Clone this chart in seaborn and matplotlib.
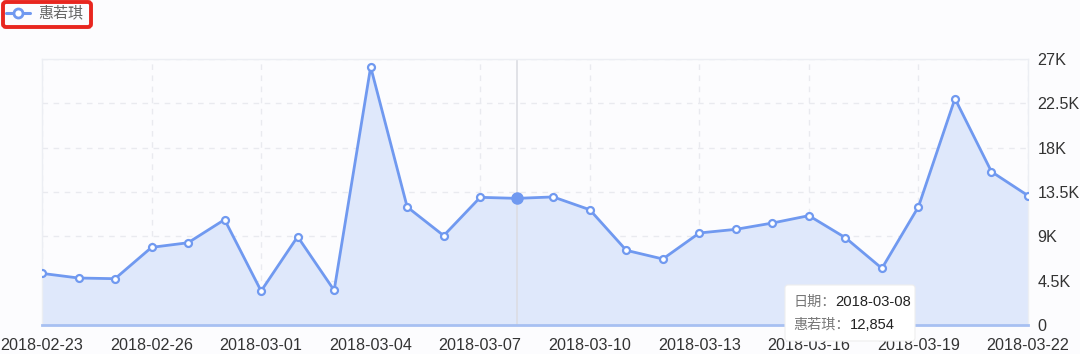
import matplotlib
matplotlib.use("Agg")
import matplotlib.pyplot as plt
import matplotlib.dates as mdates
from matplotlib.patches import FancyBboxPatch
from matplotlib.lines import Line2D
import numpy as np
import pandas as pd
import seaborn as sns

# ---- data ----
dates = pd.date_range("2018-02-23", "2018-03-22", freq="D")
values = [5240, 4770, 4700, 7880, 8350, 10700, 3450, 8970, 3520, 26200,
          11980, 9070, 12960, 12854, 13000, 11700, 7580, 6700, 9340, 9710,
          10350, 11100, 8860, 5750, 12000, 22980, 15560, 13130]
series_name = "惠若琪"
y_ticks = [0, 4500, 9000, 13500, 18000, 22500, 27000]
y_tick_labels = ["0", "4.5K", "9K", "13.5K", "18K", "22.5K", "27K"]
tick_dates = pd.date_range("2018-02-23", "2018-03-22", freq="3D")
tooltip_date = "2018-03-08"
tooltip_value = "12,854"

df = pd.DataFrame({"date": dates, "value": values})

LINE = "#7099f0"
FILL = "#dfe8fb"
BG = "#fcfcfe"
GRID = "#e9eaef"
TXT = "#333333"

sns.set_theme(style="white")
plt.rcParams["font.family"] = ["Liberation Sans", "Noto Sans CJK SC", "DejaVu Sans"]

fig = plt.figure(figsize=(10.8, 3.54), dpi=100, facecolor=BG)
ax = fig.add_axes([42 / 1080, 1 - 325 / 354, (1028 - 42) / 1080, (325 - 59) / 354])
ax.set_facecolor(BG)

ax.fill_between(df["date"], df["value"], 0, color=FILL, zorder=1, linewidth=0)

# crosshair
hi = df[df["date"] == pd.Timestamp(tooltip_date)]
ax.axvline(hi["date"].iloc[0], color="#dcdde3", lw=1.2, zorder=2)

sns.lineplot(data=df, x="date", y="value", ax=ax, color=LINE, lw=2,
             marker="o", markersize=5, markerfacecolor="white",
             markeredgecolor=LINE, markeredgewidth=1.6, zorder=4)
ax.plot(hi["date"], hi["value"], "o", color=LINE, markersize=8, zorder=5)

ax.set_xlim(dates[0], dates[-1])
ax.set_ylim(0, 27000)
ax.set_yticks(y_ticks)
ax.set_yticklabels(y_tick_labels)
ax.yaxis.tick_right()
ax.set_xticks(tick_dates)
ax.xaxis.set_major_formatter(mdates.DateFormatter("%Y-%m-%d"))
ax.set_xlabel("")
ax.set_ylabel("")
ax.tick_params(axis="both", length=0, labelsize=11.6, colors=TXT)
ax.tick_params(axis="x", pad=9)
ax.tick_params(axis="y", pad=7)

ax.grid(True, color=GRID, ls=(0, (4, 4)), lw=1, zorder=0)
for side in ["top", "left", "right"]:
    ax.spines[side].set_color("#eceef3")
    ax.spines[side].set_linewidth(1)
ax.spines["bottom"].set_color("#a7c0f2")
ax.spines["bottom"].set_linewidth(2)
ax.spines["bottom"].set_zorder(6)

# legend
leg_ax = fig.add_axes([0, 0, 1, 1], facecolor="none")
leg_ax.set_xlim(0, 1080)
leg_ax.set_ylim(354, 0)
leg_ax.axis("off")
leg_ax.add_line(Line2D([6, 13], [13, 13], color=LINE, lw=2.2))
leg_ax.add_line(Line2D([23, 30], [13, 13], color=LINE, lw=2.2))
leg_ax.plot([18], [13], "o", markersize=6.5, markerfacecolor="white",
            markeredgecolor=LINE, markeredgewidth=2)
leg_ax.text(38, 13, series_name, fontsize=10.8, color="#666666", va="center", ha="left",
            family=["Noto Sans CJK SC"])
leg_ax.add_patch(FancyBboxPatch((3, 2), 88, 25, boxstyle="round,pad=0,rounding_size=3",
                                fill=False, ec="#e8261f", lw=2.8))

# tooltip
leg_ax.add_patch(FancyBboxPatch((785, 285), 130, 56, boxstyle="round,pad=0,rounding_size=3",
                                fc="white", ec="#eeeeee", lw=0.8, zorder=7))
leg_ax.text(793, 302, "日期：", fontsize=10.2, color="#777777", va="center", ha="left",
            family=["Noto Sans CJK SC"], zorder=8)
leg_ax.text(835, 302, tooltip_date, fontsize=10.6, color="#222222", va="center", ha="left", zorder=8)
leg_ax.text(793, 325, series_name + "：", fontsize=10.2, color="#777777", va="center", ha="left",
            family=["Noto Sans CJK SC"], zorder=8)
leg_ax.text(850, 325, tooltip_value, fontsize=10.6, color="#222222", va="center", ha="left", zorder=8)

fig.savefig("out.png", dpi=100, facecolor=BG)
